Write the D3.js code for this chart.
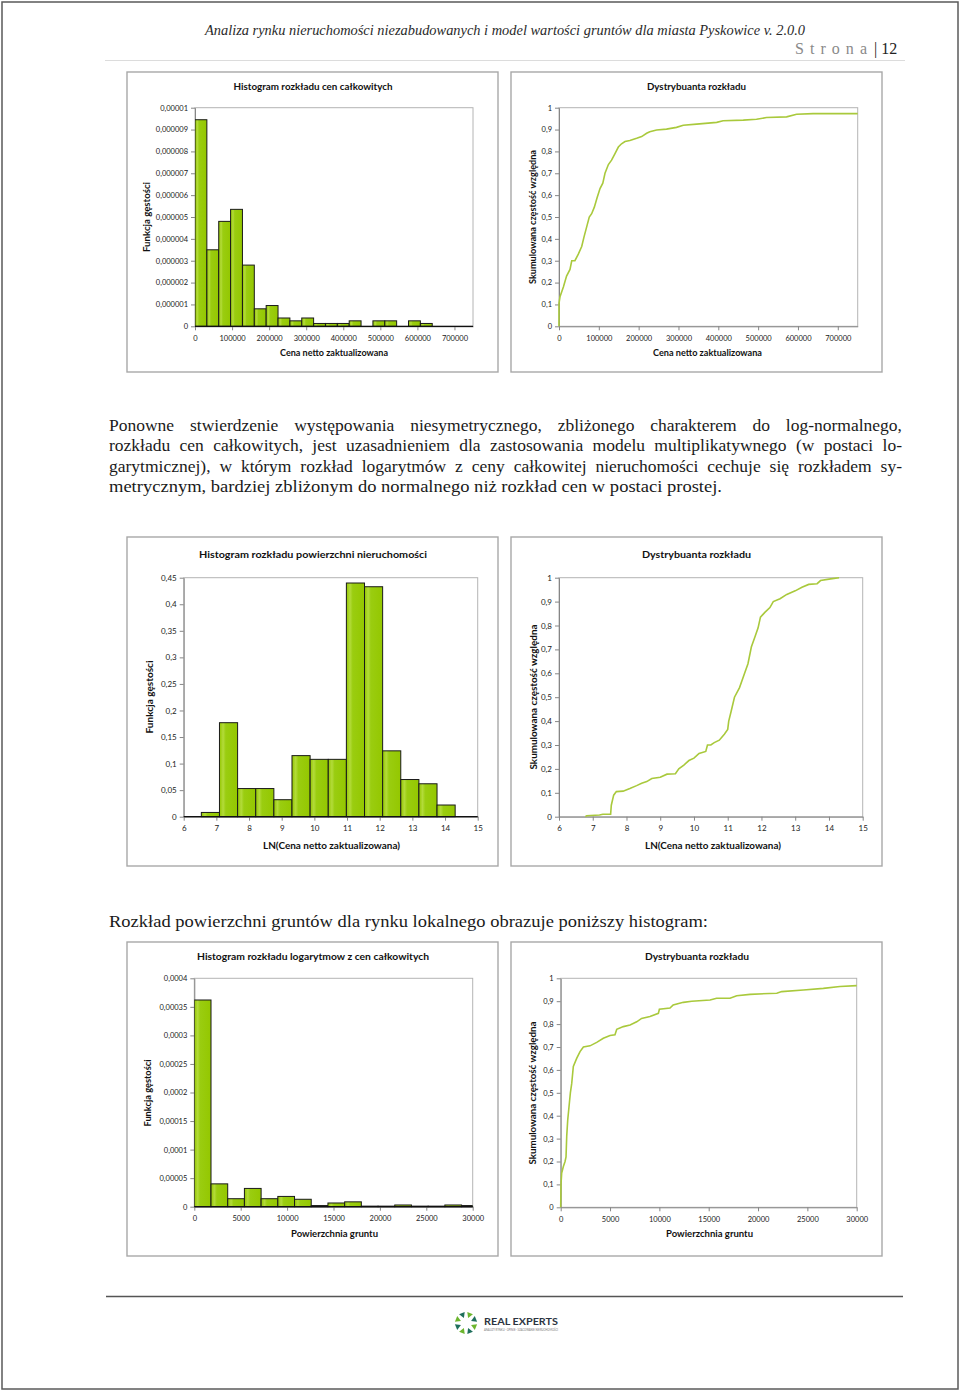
<!DOCTYPE html>
<html><head><meta charset="utf-8">
<script src="https://cdn.jsdelivr.net/npm/d3@7"></script>
<style>body{margin:0;background:#fff}svg{display:block}</style>
</head><body>
<svg id="page" width="960" height="1393"></svg>
<script>
// ---------------- DATA ----------------
// Chart 1: histogram of total prices
const hist1Edges = [0,32000,64000,96000,128000,160000,192000,224000,256000,288000,320000,352000,384000,416000,448000,480000,512000,544000,576000,608000,640000,672000];
const hist1Density = [9.45e-6,3.5e-6,4.8e-6,5.35e-6,2.8e-6,0.8e-6,0.95e-6,0.38e-6,0.25e-6,0.38e-6,0.13e-6,0.13e-6,0.13e-6,0.25e-6,0,0.25e-6,0.25e-6,0,0.25e-6,0.13e-6,0];
const hist1XTicks = [0,100000,200000,300000,400000,500000,600000,700000];
const hist1XLabels = ["0","100000","200000","300000","400000","500000","600000","700000"];
const hist1YTicks = [0,1e-6,2e-6,3e-6,4e-6,5e-6,6e-6,7e-6,8e-6,9e-6,1e-5];
const hist1YLabels = ["0","0,000001","0,000002","0,000003","0,000004","0,000005","0,000006","0,000007","0,000008","0,000009","0,00001"];
// Chart 2: CDF of total prices
const cdf1X = [0,0,2500,11000,19000,27600,32000,40000,48500,57000,63000,69500,76000,82000,88700,96000,103000,110000,115500,124000,132000,140600,149000,157000,165700,178000,195000,207500,220000,228000,245000,270000,295000,312000,345600,396000,412000,462700,496000,521000,571500,596600,638000,750000];
const cdf1Y = [0,0.105,0.135,0.18,0.23,0.26,0.30,0.30,0.33,0.365,0.41,0.455,0.50,0.515,0.545,0.59,0.63,0.655,0.70,0.74,0.76,0.79,0.82,0.835,0.845,0.85,0.86,0.868,0.883,0.89,0.898,0.902,0.91,0.92,0.925,0.933,0.94,0.943,0.947,0.955,0.958,0.97,0.973,0.973];
const cdfYTicks = [0,0.1,0.2,0.3,0.4,0.5,0.6,0.7,0.8,0.9,1];
const cdfYLabels = ["0","0,1","0,2","0,3","0,4","0,5","0,6","0,7","0,8","0,9","1"];
// Chart 3: histogram of LN(price)
const hist2Edges = [6.54,7.095,7.65,8.205,8.76,9.315,9.87,10.425,10.98,11.535,12.09,12.645,13.2,13.755,14.31];
const hist2Density = [0.008,0.177,0.053,0.053,0.032,0.115,0.108,0.108,0.44,0.433,0.124,0.07,0.062,0.022];
const lnXTicks = [6,7,8,9,10,11,12,13,14,15];
const lnXLabels = ["6","7","8","9","10","11","12","13","14","15"];
const hist2YTicks = [0,0.05,0.1,0.15,0.2,0.25,0.3,0.35,0.4,0.45];
const hist2YLabels = ["0","0,05","0,1","0,15","0,2","0,25","0,3","0,35","0,4","0,45"];
// Chart 4: CDF of LN(price)
const cdf2X = [6.78,6.82,7.2,7.3,7.53,7.55,7.62,7.7,7.9,8.1,8.3,8.45,8.6,8.75,9.0,9.2,9.45,9.55,9.7,9.85,10.0,10.15,10.35,10.4,10.5,10.6,10.75,10.9,11.0,11.03,11.1,11.2,11.35,11.5,11.6,11.7,11.8,11.9,11.97,12.1,12.25,12.35,12.55,12.75,13.0,13.2,13.4,13.65,13.75,14.05,14.3];
const cdf2Y = [0,0.004,0.007,0.01,0.01,0.048,0.09,0.105,0.107,0.118,0.13,0.14,0.147,0.16,0.165,0.178,0.18,0.2,0.216,0.235,0.245,0.265,0.273,0.3,0.3,0.31,0.32,0.345,0.365,0.40,0.44,0.5,0.54,0.6,0.64,0.71,0.75,0.79,0.835,0.855,0.875,0.9,0.912,0.93,0.945,0.96,0.972,0.975,0.988,0.995,1.0];
// Chart 5: histogram of land area
const hist3Edges = [0,1800,3600,5400,7200,9000,10800,12600,14400,16200,18000,19800,21600,23400,25200,27000,28800,30600];
const hist3Density = [362e-6,40e-6,14e-6,32e-6,14e-6,18e-6,13e-6,2e-6,6.5e-6,8.5e-6,1e-6,1e-6,3e-6,1e-6,1e-6,3e-6,2e-6];
const areaXTicks = [0,5000,10000,15000,20000,25000,30000];
const areaXLabels = ["0","5000","10000","15000","20000","25000","30000"];
const hist3YTicks = [0,0.00005,0.0001,0.00015,0.0002,0.00025,0.0003,0.00035,0.0004];
const hist3YLabels = ["0","0,00005","0,0001","0,00015","0,0002","0,00025","0,0003","0,00035","0,0004"];
// Chart 6: CDF of land area
const cdf3X = [0,30,100,270,440,540,610,710,845,980,1115,1280,1620,1960,2300,2970,3650,4320,5000,5500,5680,6350,7030,7700,8200,9050,9900,10000,11080,11400,12430,13280,15140,15800,17160,17840,19190,21900,22400,24600,26620,28300,30000];
const cdf3Y = [0,0.1,0.15,0.178,0.2,0.22,0.31,0.38,0.44,0.5,0.54,0.615,0.65,0.68,0.70,0.705,0.72,0.738,0.75,0.753,0.777,0.789,0.796,0.81,0.825,0.833,0.847,0.865,0.87,0.884,0.895,0.9,0.905,0.913,0.913,0.924,0.93,0.935,0.942,0.949,0.956,0.964,0.968];

// Text
const headerTitle = "Analiza rynku nieruchomości niezabudowanych i model wartości gruntów dla miasta Pyskowice v. 2.0.0";
const paragraph1 = [
 "Ponowne stwierdzenie występowania niesymetrycznego, zbliżonego charakterem do log-normalnego,",
 "rozkładu cen całkowitych, jest uzasadnieniem dla zastosowania modelu multiplikatywnego (w postaci lo-",
 "garytmicznej), w którym rozkład logarytmów z ceny całkowitej nieruchomości cechuje się rozkładem sy-",
 "metrycznym, bardziej zbliżonym do normalnego niż rozkład cen w postaci prostej."
];
const paragraph2 = "Rozkład powierzchni gruntów dla rynku lokalnego obrazuje poniższy histogram:";

// ---------------- DRAWING ----------------
const svg = d3.select("#page");
const SANS = "Lato, 'Open Sans', 'Liberation Sans', sans-serif";
const SERIF = "'Liberation Serif', 'DejaVu Serif', serif";

// page border
svg.append("rect").attr("x",2).attr("y",2).attr("width",956).attr("height",1387)
  .attr("fill","none").attr("stroke","#5a5a5a").attr("stroke-width",1.5);

// header
svg.append("text").attr("x",205).attr("y",35).attr("font-family",SERIF).attr("font-style","italic")
  .attr("font-size",15.5).attr("fill","#2a2a2a").attr("textLength",600).attr("lengthAdjust","spacingAndGlyphs")
  .text(headerTitle);
svg.append("text").attr("x",795).attr("y",54).attr("font-family",SERIF).attr("font-size",16)
  .attr("fill","#8a8a8a").attr("textLength",72).attr("lengthAdjust","spacing").text("Strona");
svg.append("text").attr("x",874).attr("y",54).attr("font-family",SERIF).attr("font-size",16)
  .attr("fill","#222").text("| 12");
svg.append("line").attr("x1",105).attr("x2",905).attr("y1",60.5).attr("y2",60.5).attr("stroke","#dcdcdc").attr("stroke-width",1);

// paragraphs (justified)
function justified(txt, x, y, w, justify){
  const t = svg.append("text").attr("x",x).attr("y",y).attr("font-family",SERIF).attr("font-size",17.5)
    .attr("fill","#1a1a1a").text(txt);
  const nat = t.node().getComputedTextLength();
  if (justify){
    const spaces = (txt.match(/ /g)||[]).length;
    const ws = (w - nat)/spaces;
    if (ws > 0) t.attr("word-spacing", ws);
    else t.attr("textLength", w).attr("lengthAdjust","spacingAndGlyphs");
  } else {
    t.attr("textLength", w).attr("lengthAdjust","spacingAndGlyphs");
  }
  return t;
}
const pY = [430.5, 451, 471.5, 492];
paragraph1.forEach((ln,i)=> justified(ln, 109, pY[i], i<3 ? 793 : 613, i<3));
justified(paragraph2, 109, 926.5, 599, false);

// footer line
svg.append("line").attr("x1",106).attr("x2",903).attr("y1",1296.5).attr("y2",1296.5).attr("stroke","#555").attr("stroke-width",1.5);

// logo
(function(){
  const cx = 466, cy = 1323, g = svg.append("g");
  const cols = ["#6cb52d","#1f6f5c","#6cb52d","#1f6f5c","#6cb52d","#1f6f5c","#6cb52d","#1f6f5c"];
  d3.range(8).forEach(i=>{
    const a = i*Math.PI/4 + Math.PI/8;
    const r = 9;
    const px = cx + r*Math.cos(a), py = cy + r*Math.sin(a);
    g.append("path").attr("d", d3.symbol(d3.symbolTriangle, 16)())
     .attr("transform", `translate(${px},${py}) rotate(${a*180/Math.PI - 90})`)
     .attr("fill", cols[i]);
  });
  svg.append("text").attr("x",484).attr("y",1325).attr("font-family",SANS).attr("font-weight","bold")
    .attr("font-size",9.5).attr("fill","#2c3441").attr("textLength",74).attr("lengthAdjust","spacingAndGlyphs").text("REAL EXPERTS");
  svg.append("text").attr("x",484).attr("y",1331).attr("font-family",SANS)
    .attr("font-size",3.5).attr("fill","#777").attr("textLength",74).attr("lengthAdjust","spacingAndGlyphs")
    .text("ANALIZY RYNKU · OPINIE · SZACOWANIE NIERUCHOMOŚCI");
})();

// defs: bar gradient
const defs = svg.append("defs");
const grad = defs.append("linearGradient").attr("id","barGrad").attr("x1","0").attr("x2","1").attr("y1","0").attr("y2","0");
[["0%","#93c600"],["20%","#b3db3a"],["35%","#9acd10"],["100%","#94c700"]].forEach(s=>grad.append("stop").attr("offset",s[0]).attr("stop-color",s[1]));

function chart(cfg){
  const [fx0,fy0,fx1,fy1] = cfg.frame;
  svg.append("rect").attr("x",fx0).attr("y",fy0).attr("width",fx1-fx0).attr("height",fy1-fy0)
    .attr("fill","#fff").attr("stroke","#a8a8a8").attr("stroke-width",1.4);
  const [l,t,r,b] = cfg.plot;
  const x = d3.scaleLinear().domain(cfg.xDomain).range([l,r]);
  const y = d3.scaleLinear().domain(cfg.yDomain).range([b,t]);
  const g = svg.append("g");
  // plot border
  g.append("rect").attr("x",l).attr("y",t).attr("width",r-l).attr("height",b-t)
    .attr("fill","none").attr("stroke","#b4b4b4").attr("stroke-width",1);
  // title
  svg.append("text").attr("x",cfg.title[1]).attr("y",cfg.title[2]).attr("text-anchor","middle")
    .attr("font-family",SANS).attr("font-weight","bold").attr("font-size",10).attr("fill","#111")
    .attr("textLength",cfg.title[3]).attr("lengthAdjust","spacingAndGlyphs").text(cfg.title[0]);
  // x title
  svg.append("text").attr("x",cfg.xTitle[1]).attr("y",cfg.xTitle[2]).attr("text-anchor","middle")
    .attr("font-family",SANS).attr("font-weight","bold").attr("font-size",9.5).attr("fill","#111")
    .attr("textLength",cfg.xTitle[3]).attr("lengthAdjust","spacingAndGlyphs").text(cfg.xTitle[0]);
  // y title
  svg.append("text").attr("transform",`translate(${cfg.yTitle[1]},${cfg.yTitle[2]}) rotate(-90)`)
    .attr("text-anchor","middle").attr("dy","0.35em")
    .attr("font-family",SANS).attr("font-weight","bold").attr("font-size",9.5).attr("fill","#111")
    .attr("textLength",cfg.yTitle[3]).attr("lengthAdjust","spacingAndGlyphs").text(cfg.yTitle[0]);
  // axes
  const fs = cfg.tickFont || 7.5;
  const ya = g.append("g").attr("transform",`translate(${l},0)`)
    .call(d3.axisLeft(y).tickValues(cfg.yTicks).tickFormat((d,i)=>cfg.yLabels[i]).tickSize(4).tickSizeOuter(0).tickPadding(3));
  const xa = g.append("g").attr("transform",`translate(0,${b})`)
    .call(d3.axisBottom(x).tickValues(cfg.xTicks).tickFormat((d,i)=>cfg.xLabels[i]).tickSize(4).tickSizeOuter(0).tickPadding(5));
  [ya,xa].forEach(a=>{
    a.selectAll("text").attr("font-family",SANS).attr("font-size",fs).attr("fill","#222");
    a.selectAll("line").attr("stroke","#868686");
    a.select(".domain").attr("stroke","#868686");
  });
  return {g,x,y,l,t,r,b};
}

function histogram(c, edges, dens, xmax){
  const clipId = "clip"+Math.round(c.l)+"_"+Math.round(c.t);
  defs.append("clipPath").attr("id",clipId).append("rect").attr("x",c.l).attr("y",c.t-2).attr("width",c.r-c.l).attr("height",c.b-c.t+4);
  const bars = dens.map((d,i)=>({x0:edges[i], x1:edges[i+1], d})).filter(o=>o.d>0);
  c.g.append("g").attr("clip-path",`url(#${clipId})`).selectAll("rect").data(bars).join("rect")
    .attr("x",o=>c.x(o.x0)).attr("width",o=>c.x(Math.min(o.x1,xmax))-c.x(o.x0))
    .attr("y",o=>c.y(o.d)).attr("height",o=>c.y(0)-c.y(o.d))
    .attr("fill","url(#barGrad)").attr("stroke","#1a1a1a").attr("stroke-width",1);
  c.g.append("line").attr("x1",c.l).attr("x2",c.r).attr("y1",c.b).attr("y2",c.b).attr("stroke","#111").attr("stroke-width",1.2);
}

function cdf(c, xs, ys){
  const pts = xs.map((v,i)=>[v, ys[i]]);
  c.g.append("path").datum(pts).attr("fill","none").attr("stroke","#a9c93c").attr("stroke-width",1.6)
    .attr("d", d3.line().x(d=>c.x(d[0])).y(d=>c.y(d[1])));
}

// Chart 1
const c1 = chart({frame:[127,72,498,372], plot:[195,107.7,473,326.3], xDomain:[0,750000], yDomain:[0,1e-5],
  xTicks:hist1XTicks, xLabels:hist1XLabels, yTicks:hist1YTicks, yLabels:hist1YLabels,
  title:["Histogram rozkładu cen całkowitych",313,89.5,159], xTitle:["Cena netto zaktualizowana",334,355.5,108],
  yTitle:["Funkcja gęstości",147,217,70]});
histogram(c1, hist1Edges, hist1Density, 750000);
// Chart 2
const c2 = chart({frame:[511,72,882,372], plot:[559,107.7,857.7,326.3], xDomain:[0,750000], yDomain:[0,1],
  xTicks:hist1XTicks, xLabels:hist1XLabels, yTicks:cdfYTicks, yLabels:cdfYLabels,
  title:["Dystrybuanta rozkładu",696.5,89.5,99], xTitle:["Cena netto zaktualizowana",707.5,355.5,109],
  yTitle:["Skumulowana częstość względna",533,217,134]});
cdf(c2, cdf1X, cdf1Y);
// Chart 3
const c3 = chart({frame:[127,537,498,866], plot:[183.7,577.7,477.7,816.7], xDomain:[6,15], yDomain:[0,0.45],
  xTicks:lnXTicks, xLabels:lnXLabels, yTicks:hist2YTicks, yLabels:hist2YLabels, tickFont:8,
  title:["Histogram rozkładu powierzchni  nieruchomości",313,557.5,228], xTitle:["LN(Cena netto zaktualizowana)",331.5,848.5,137],
  yTitle:["Funkcja gęstości",150,697,73]});
histogram(c3, hist2Edges, hist2Density, 15);
// Chart 4
const c4 = chart({frame:[511,537,882,866], plot:[559,577.7,862.7,816.7], xDomain:[6,15], yDomain:[0,1],
  xTicks:lnXTicks, xLabels:lnXLabels, yTicks:cdfYTicks, yLabels:cdfYLabels, tickFont:8,
  title:["Dystrybuanta rozkładu",696.5,557.5,109], xTitle:["LN(Cena netto zaktualizowana)",713,848.5,136],
  yTitle:["Skumulowana częstość względna",534,697,145]});
cdf(c4, cdf2X, cdf2Y);
// Chart 5
const c5 = chart({frame:[127,942,498,1256], plot:[194.3,978.3,472.7,1206.7], xDomain:[0,30000], yDomain:[0,0.0004],
  xTicks:areaXTicks, xLabels:areaXLabels, yTicks:hist3YTicks, yLabels:hist3YLabels,
  title:["Histogram rozkładu logarytmow z cen całkowitych",313,960,232], xTitle:["Powierzchnia gruntu",334.5,1237,87],
  yTitle:["Funkcja gęstości",148,1093,67]});
histogram(c5, hist3Edges, hist3Density, 30000);
// Chart 6
const c6 = chart({frame:[511,942,882,1256], plot:[560.7,978.3,856.7,1207.3], xDomain:[0,30000], yDomain:[0,1],
  xTicks:areaXTicks, xLabels:areaXLabels, yTicks:cdfYTicks, yLabels:cdfYLabels,
  title:["Dystrybuanta rozkładu",697,960,104], xTitle:["Powierzchnia gruntu",709.5,1237,87],
  yTitle:["Skumulowana częstość względna",533,1093,143]});
cdf(c6, cdf3X, cdf3Y);
</script>
</body></html>
